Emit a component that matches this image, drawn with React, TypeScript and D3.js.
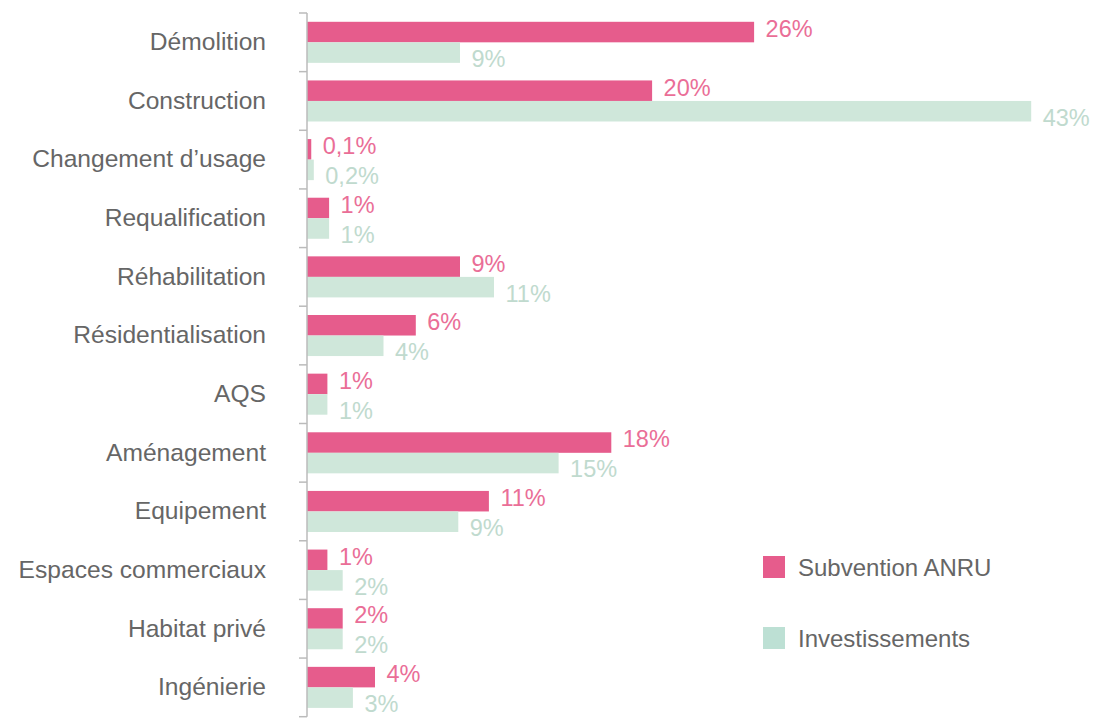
import React from "react";
import * as d3 from "d3";

const categories = [
  "Démolition",
  "Construction",
  "Changement d’usage",
  "Requalification",
  "Réhabilitation",
  "Résidentialisation",
  "AQS",
  "Aménagement",
  "Equipement",
  "Espaces commerciaux",
  "Habitat privé",
  "Ingénierie",
];

const subventionValues = [26.3, 20.3, 0.25, 1.3, 9.0, 6.4, 1.2, 17.9, 10.7, 1.2, 2.1, 4.0];
const investValues = [9.0, 42.6, 0.4, 1.3, 11.0, 4.5, 1.2, 14.8, 8.9, 2.1, 2.1, 2.7];

const subventionLabels = ["26%", "20%", "0,1%", "1%", "9%", "6%", "1%", "18%", "11%", "1%", "2%", "4%"];
const investLabels = ["9%", "43%", "0,2%", "1%", "11%", "4%", "1%", "15%", "9%", "2%", "2%", "3%"];

const seriesNames = ["Subvention ANRU", "Investissements"];

const W = 1095;
const H = 719;
const PINK = "#E65C8C";
const GREEN = "#CFE7DA";
const GREEN_LEGEND = "#BDE0D4";
const PINK_TEXT = "#EA6E97";
const GREEN_TEXT = "#C0DACE";
const TEXT = "#666";
const AXIS = "#BBBBBB";
const FONT = "'Liberation Sans', Arial, Helvetica, sans-serif";

export default function App() {
  const axisX = 307;
  const top = 13;
  const bottom = 716.7;

  const y = d3.scaleBand<string>().domain(categories).range([top, bottom]).paddingInner(0.3).paddingOuter(0.15);
  const step = y.step();
  const sub = d3.scaleBand<string>().domain(["s", "i"]).range([0, y.bandwidth()]);
  const x = d3.scaleLinear().domain([0, 45]).range([axisX, axisX + 45 * 17]);

  const tickYs = d3.range(categories.length + 1).map((i) => top + i * step);

  return (
    <div style={{ position: "absolute", left: 0, top: 0 }}>
      <svg width={W} height={H} style={{ display: "block" }} fontFamily={FONT}>
        <rect x={0} y={0} width={W} height={H} fill="#fff" />
        {categories.map((c, i) => {
          const y0 = y(c)!;
          const ys = y0 + sub("s")!;
          const yi = y0 + sub("i")!;
          const bh = sub.bandwidth();
          const cy = y0 + y.bandwidth() / 2;
          return (
            <g key={c}>
              <text x={266} y={cy + 7.8} textAnchor="end" fontSize={24.6} fill={TEXT}>
                {c}
              </text>
              <rect x={axisX} y={ys} width={x(subventionValues[i]) - axisX} height={bh} fill={PINK} />
              <rect x={axisX} y={yi} width={x(investValues[i]) - axisX} height={bh} fill={GREEN} />
              <text x={x(subventionValues[i]) + 11.5} y={ys + bh / 2 - 3.5 + 8.4} fontSize={23.5} fill={PINK_TEXT}>
                {subventionLabels[i]}
              </text>
              <text x={x(investValues[i]) + 11.5} y={yi + bh / 2 + 6 + 8.4} fontSize={23.5} fill={GREEN_TEXT}>
                {investLabels[i]}
              </text>
            </g>
          );
        })}
        <line x1={axisX} x2={axisX} y1={top} y2={bottom} stroke={AXIS} strokeWidth={1.5} />
        {tickYs.map((ty, i) => (
          <line key={i} x1={299} x2={axisX} y1={ty} y2={ty} stroke={AXIS} strokeWidth={1.5} />
        ))}
        {seriesNames.map((n, i) => {
          const ly = 556 + i * 71;
          return (
            <g key={n}>
              <rect x={763} y={ly} width={22} height={22} fill={i === 0 ? PINK : GREEN_LEGEND} />
              <text x={798} y={ly + 11 + 8.6} fontSize={24} fill={TEXT}>
                {n}
              </text>
            </g>
          );
        })}
      </svg>
    </div>
  );
}
